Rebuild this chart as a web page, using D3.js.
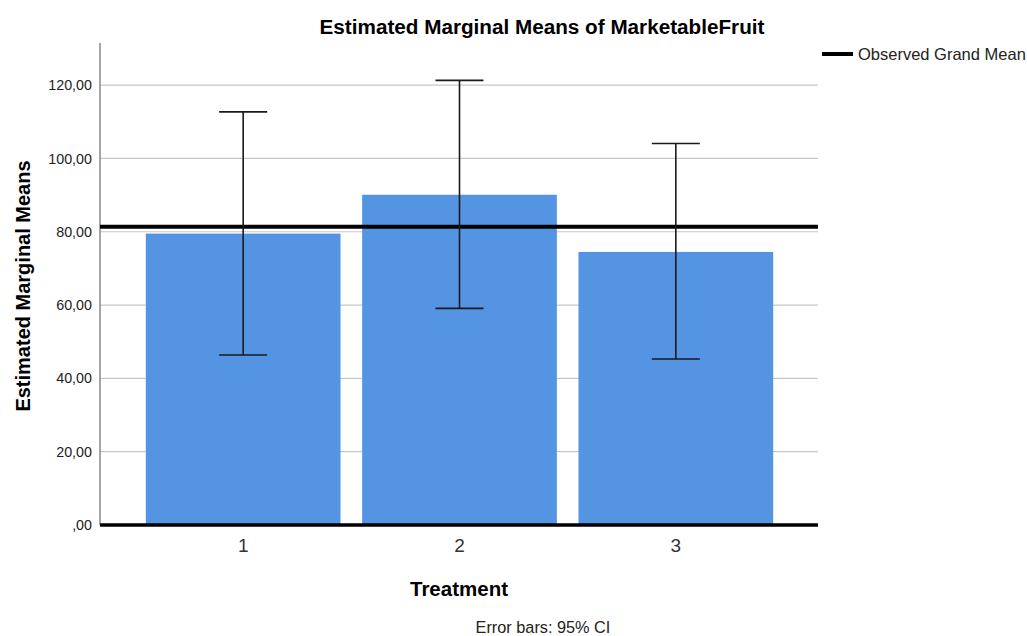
<!DOCTYPE html>
<html><head><meta charset="utf-8">
<script src="https://cdn.jsdelivr.net/npm/d3@7"></script>
<style>body{margin:0;background:#fff}svg{font-family:"Liberation Sans",Arial,sans-serif}</style>
</head><body><svg id="c" width="1027" height="636"></svg>
<script>
const categories = ["1","2","3"];
const means = [79.5, 90.1, 74.5];
const ciLower = [46.4, 59.1, 45.3];
const ciUpper = [112.7, 121.3, 104.1];
const grandMean = 81.4;
const yTicks = [0,20,40,60,80,100,120];
const yTickLabels = [",00","20,00","40,00","60,00","80,00","100,00","120,00"];

const svg = d3.select("#c");
const y = d3.scaleLinear().domain([0,131.5]).range([525,43]);
const x = d3.scaleBand().domain(categories).range([135,784]).paddingInner(0.1).paddingOuter(0.05);

// gridlines
svg.append("g").selectAll("line").data(yTicks.filter(d=>d>0)).join("line")
  .attr("x1",100).attr("x2",818).attr("y1",d=>y(d)).attr("y2",d=>y(d))
  .attr("stroke","#c8c8c8").attr("stroke-width",1.2);

// y axis
const yAxis = d3.axisLeft(y).tickValues(yTicks).tickFormat((d,i)=>yTickLabels[i]).tickSize(0).tickPadding(8);
const ga = svg.append("g").attr("transform","translate(100,0)").call(yAxis);
ga.select(".domain").remove();
ga.selectAll("text").attr("font-size",14.3).attr("fill","#222").attr("font-family","Liberation Sans, Arial, sans-serif");
svg.append("line").attr("x1",100).attr("x2",100).attr("y1",43).attr("y2",525).attr("stroke","#888").attr("stroke-width",1.5);

// bars
svg.append("g").selectAll("rect").data(means).join("rect")
  .attr("x",(d,i)=>x(categories[i])).attr("width",x.bandwidth())
  .attr("y",d=>y(d)).attr("height",d=>y(0)-y(d)).attr("fill","#5594e2");

// grand mean line
svg.append("line").attr("x1",100).attr("x2",818).attr("y1",y(grandMean)).attr("y2",y(grandMean))
  .attr("stroke","#000").attr("stroke-width",4);

// error bars
const eb = svg.append("g").attr("stroke","#1a1a1a").attr("stroke-width",1.6);
categories.forEach((c,i)=>{
  const cx = x(c)+x.bandwidth()/2;
  eb.append("line").attr("x1",cx).attr("x2",cx).attr("y1",y(ciLower[i])).attr("y2",y(ciUpper[i]));
  eb.append("line").attr("x1",cx-24).attr("x2",cx+24).attr("y1",y(ciLower[i])).attr("y2",y(ciLower[i]));
  eb.append("line").attr("x1",cx-24).attr("x2",cx+24).attr("y1",y(ciUpper[i])).attr("y2",y(ciUpper[i]));
});

// baseline
svg.append("line").attr("x1",100).attr("x2",818).attr("y1",y(0)).attr("y2",y(0)).attr("stroke","#000").attr("stroke-width",3.5);

// x axis labels
const xAxis = d3.axisBottom(x).tickSize(0).tickPadding(14);
const gx = svg.append("g").attr("transform","translate(0,525)").call(xAxis);
gx.select(".domain").remove();
gx.selectAll("text").attr("font-size",19).attr("fill","#333").attr("font-family","Liberation Sans, Arial, sans-serif");

// titles
svg.append("text").attr("x",542).attr("y",34).attr("text-anchor","middle").attr("font-size",20.7).attr("font-weight","bold").text("Estimated Marginal Means of MarketableFruit");
svg.append("text").attr("x",459).attr("y",596).attr("text-anchor","middle").attr("font-size",20.5).attr("font-weight","bold").text("Treatment");
svg.append("text").attr("transform","translate(30,286) rotate(-90)").attr("text-anchor","middle").attr("font-size",20).attr("font-weight","bold").text("Estimated Marginal Means");
svg.append("text").attr("x",543).attr("y",633).attr("text-anchor","middle").attr("font-size",16.3).attr("fill","#222").text("Error bars: 95% CI");

// legend
svg.append("line").attr("x1",822).attr("x2",853).attr("y1",54).attr("y2",54).attr("stroke","#000").attr("stroke-width",4);
svg.append("text").attr("x",858).attr("y",60).attr("font-size",16.5).attr("fill","#222").text("Observed Grand Mean");
</script></body></html>
